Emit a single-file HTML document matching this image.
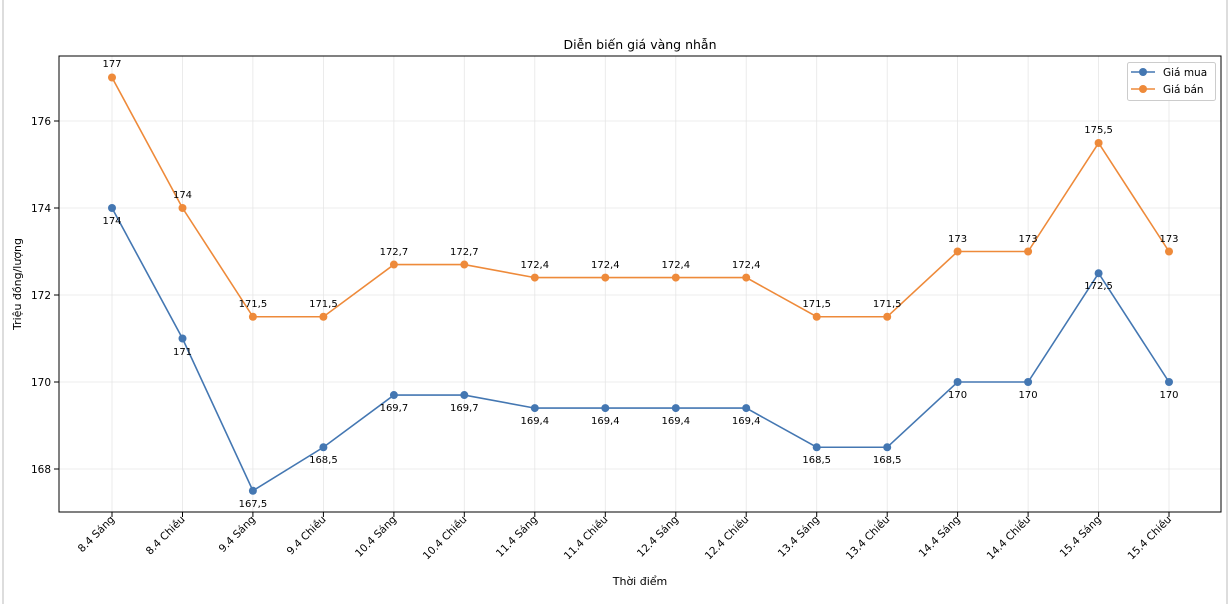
<!DOCTYPE html><html><head><meta charset="utf-8"><style>body{margin:0;background:#fff}svg{display:block;font-family:"DejaVu Sans","Liberation Sans",sans-serif}</style></head><body>
<svg width="1230" height="604" viewBox="0 0 1230 604">
<rect x="0" y="0" width="1230" height="604" fill="#fff"/>
<line x1="3" y1="0" x2="3" y2="604" stroke="#ddd" stroke-width="2"/>
<line x1="1227" y1="0" x2="1227" y2="604" stroke="#ddd" stroke-width="2"/>
<g stroke="#e6e6e6" stroke-width="0.8">
<line x1="112" y1="56" x2="112" y2="512"/><line x1="182.5" y1="56" x2="182.5" y2="512"/><line x1="252.9" y1="56" x2="252.9" y2="512"/><line x1="323.4" y1="56" x2="323.4" y2="512"/><line x1="393.9" y1="56" x2="393.9" y2="512"/><line x1="464.3" y1="56" x2="464.3" y2="512"/><line x1="534.8" y1="56" x2="534.8" y2="512"/><line x1="605.3" y1="56" x2="605.3" y2="512"/><line x1="675.8" y1="56" x2="675.8" y2="512"/><line x1="746.2" y1="56" x2="746.2" y2="512"/><line x1="816.7" y1="56" x2="816.7" y2="512"/><line x1="887.2" y1="56" x2="887.2" y2="512"/><line x1="957.6" y1="56" x2="957.6" y2="512"/><line x1="1028.1" y1="56" x2="1028.1" y2="512"/><line x1="1098.6" y1="56" x2="1098.6" y2="512"/><line x1="1169" y1="56" x2="1169" y2="512"/>
<line x1="59" y1="469" x2="1221" y2="469"/><line x1="59" y1="382" x2="1221" y2="382"/><line x1="59" y1="295" x2="1221" y2="295"/><line x1="59" y1="208" x2="1221" y2="208"/><line x1="59" y1="121" x2="1221" y2="121"/>
</g>
<rect x="59" y="56" width="1162" height="456" fill="none" stroke="#000" stroke-width="1"/>
<g stroke="#000" stroke-width="1">
<line x1="54" y1="469" x2="59" y2="469"/><line x1="54" y1="382" x2="59" y2="382"/><line x1="54" y1="295" x2="59" y2="295"/><line x1="54" y1="208" x2="59" y2="208"/><line x1="54" y1="121" x2="59" y2="121"/>
</g>
<g font-size="10.5" text-anchor="end" fill="#000">
<text x="51" y="473">168</text><text x="51" y="386">170</text><text x="51" y="299">172</text><text x="51" y="212">174</text><text x="51" y="125">176</text>
</g>
<text x="640" y="49" font-size="12.5" text-anchor="middle">Diễn biến giá vàng nhẫn</text>
<text x="640" y="585" font-size="11" text-anchor="middle">Thời điểm</text>
<text transform="translate(21,284) rotate(-90)" font-size="11" text-anchor="middle">Triệu đồng/lượng</text>
<g font-size="10.5" text-anchor="end">
<text transform="translate(115,520) rotate(-45)">8.4 Sáng</text>
<text transform="translate(185.5,520) rotate(-45)">8.4 Chiều</text>
<text transform="translate(255.9,520) rotate(-45)">9.4 Sáng</text>
<text transform="translate(326.4,520) rotate(-45)">9.4 Chiều</text>
<text transform="translate(396.9,520) rotate(-45)">10.4 Sáng</text>
<text transform="translate(467.3,520) rotate(-45)">10.4 Chiều</text>
<text transform="translate(537.8,520) rotate(-45)">11.4 Sáng</text>
<text transform="translate(608.3,520) rotate(-45)">11.4 Chiều</text>
<text transform="translate(678.8,520) rotate(-45)">12.4 Sáng</text>
<text transform="translate(749.2,520) rotate(-45)">12.4 Chiều</text>
<text transform="translate(819.7,520) rotate(-45)">13.4 Sáng</text>
<text transform="translate(890.2,520) rotate(-45)">13.4 Chiều</text>
<text transform="translate(960.6,520) rotate(-45)">14.4 Sáng</text>
<text transform="translate(1031.1,520) rotate(-45)">14.4 Chiều</text>
<text transform="translate(1101.6,520) rotate(-45)">15.4 Sáng</text>
<text transform="translate(1172,520) rotate(-45)">15.4 Chiều</text>
</g>
<g stroke="#000"><line x1="112" y1="512" x2="112" y2="517"/><line x1="182.5" y1="512" x2="182.5" y2="517"/><line x1="252.9" y1="512" x2="252.9" y2="517"/><line x1="323.4" y1="512" x2="323.4" y2="517"/><line x1="393.9" y1="512" x2="393.9" y2="517"/><line x1="464.3" y1="512" x2="464.3" y2="517"/><line x1="534.8" y1="512" x2="534.8" y2="517"/><line x1="605.3" y1="512" x2="605.3" y2="517"/><line x1="675.8" y1="512" x2="675.8" y2="517"/><line x1="746.2" y1="512" x2="746.2" y2="517"/><line x1="816.7" y1="512" x2="816.7" y2="517"/><line x1="887.2" y1="512" x2="887.2" y2="517"/><line x1="957.6" y1="512" x2="957.6" y2="517"/><line x1="1028.1" y1="512" x2="1028.1" y2="517"/><line x1="1098.6" y1="512" x2="1098.6" y2="517"/><line x1="1169" y1="512" x2="1169" y2="517"/></g>
<polyline fill="none" stroke="#4477b2" stroke-width="1.6" points="112,208 182.5,338.5 252.9,490.75 323.4,447.25 393.9,395.05 464.3,395.05 534.8,408.1 605.3,408.1 675.8,408.1 746.2,408.1 816.7,447.25 887.2,447.25 957.6,382 1028.1,382 1098.6,273.25 1169,382"/>
<polyline fill="none" stroke="#ee8a3a" stroke-width="1.6" points="112,77.5 182.5,208 252.9,316.75 323.4,316.75 393.9,264.55 464.3,264.55 534.8,277.6 605.3,277.6 675.8,277.6 746.2,277.6 816.7,316.75 887.2,316.75 957.6,251.5 1028.1,251.5 1098.6,143 1169,251.5"/>
<g fill="#4477b2"><circle cx="112" cy="208" r="4"/><circle cx="182.5" cy="338.5" r="4"/><circle cx="252.9" cy="490.75" r="4"/><circle cx="323.4" cy="447.25" r="4"/><circle cx="393.9" cy="395.05" r="4"/><circle cx="464.3" cy="395.05" r="4"/><circle cx="534.8" cy="408.1" r="4"/><circle cx="605.3" cy="408.1" r="4"/><circle cx="675.8" cy="408.1" r="4"/><circle cx="746.2" cy="408.1" r="4"/><circle cx="816.7" cy="447.25" r="4"/><circle cx="887.2" cy="447.25" r="4"/><circle cx="957.6" cy="382" r="4"/><circle cx="1028.1" cy="382" r="4"/><circle cx="1098.6" cy="273.25" r="4"/><circle cx="1169" cy="382" r="4"/></g>
<g fill="#ee8a3a"><circle cx="112" cy="77.5" r="4"/><circle cx="182.5" cy="208" r="4"/><circle cx="252.9" cy="316.75" r="4"/><circle cx="323.4" cy="316.75" r="4"/><circle cx="393.9" cy="264.55" r="4"/><circle cx="464.3" cy="264.55" r="4"/><circle cx="534.8" cy="277.6" r="4"/><circle cx="605.3" cy="277.6" r="4"/><circle cx="675.8" cy="277.6" r="4"/><circle cx="746.2" cy="277.6" r="4"/><circle cx="816.7" cy="316.75" r="4"/><circle cx="887.2" cy="316.75" r="4"/><circle cx="957.6" cy="251.5" r="4"/><circle cx="1028.1" cy="251.5" r="4"/><circle cx="1098.6" cy="143" r="4"/><circle cx="1169" cy="251.5" r="4"/></g>
<g font-size="10" text-anchor="middle">
<text x="112" y="67">177</text><text x="182.5" y="198">174</text><text x="252.9" y="307">171,5</text><text x="323.4" y="307">171,5</text><text x="393.9" y="255">172,7</text><text x="464.3" y="255">172,7</text><text x="534.8" y="268">172,4</text><text x="605.3" y="268">172,4</text><text x="675.8" y="268">172,4</text><text x="746.2" y="268">172,4</text><text x="816.7" y="307">171,5</text><text x="887.2" y="307">171,5</text><text x="957.6" y="242">173</text><text x="1028.1" y="242">173</text><text x="1098.6" y="133">175,5</text><text x="1169" y="242">173</text>
<text x="112" y="224">174</text><text x="182.5" y="355">171</text><text x="252.9" y="507">167,5</text><text x="323.4" y="463">168,5</text><text x="393.9" y="411">169,7</text><text x="464.3" y="411">169,7</text><text x="534.8" y="424">169,4</text><text x="605.3" y="424">169,4</text><text x="675.8" y="424">169,4</text><text x="746.2" y="424">169,4</text><text x="816.7" y="463">168,5</text><text x="887.2" y="463">168,5</text><text x="957.6" y="398">170</text><text x="1028.1" y="398">170</text><text x="1098.6" y="289">172,5</text><text x="1169" y="398">170</text>
</g>
<rect x="1127.5" y="62.5" width="88" height="38" rx="2" fill="#fff" fill-opacity="0.8" stroke="#ccc"/>
<line x1="1131" y1="72" x2="1155" y2="72" stroke="#4477b2" stroke-width="1.6"/><circle cx="1143" cy="72" r="4" fill="#4477b2"/>
<line x1="1131" y1="89" x2="1155" y2="89" stroke="#ee8a3a" stroke-width="1.6"/><circle cx="1143" cy="89" r="4" fill="#ee8a3a"/>
<text x="1163" y="76" font-size="10.5">Giá mua</text>
<text x="1163" y="93" font-size="10.5">Giá bán</text>
</svg>
</body></html>
